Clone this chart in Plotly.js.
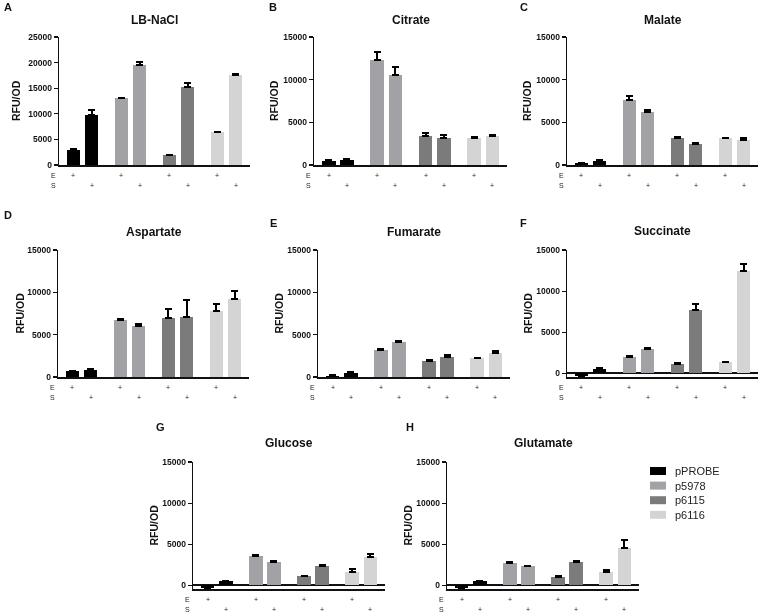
<!DOCTYPE html>
<html>
<head>
<meta charset="utf-8">
<script src="https://cdn.plot.ly/plotly-3.0.1.min.js"></script>
<style>
html,body{margin:0;padding:0;background:#fff;}
#chart{width:760px;height:614px;}
#chart .main-svg{will-change:transform;}
</style>
</head>
<body>
<div id="chart"></div>
<script>
// ---------- DATA ----------
const strains = ['pPROBE', 'p5978', 'p6115', 'p6116'];
const strainColors = ['#000000', '#a1a1a6', '#7b7b7b', '#d4d4d4'];
const panelTitles = ['LB-NaCl', 'Citrate', 'Malate', 'Aspartate', 'Fumarate', 'Succinate', 'Glucose', 'Glutamate'];
const panelLetters = ['A', 'B', 'C', 'D', 'E', 'F', 'G', 'H'];
const rowE = ['+', '', '+', '', '+', '', '+', ''];
const rowS = ['', '+', '', '+', '', '+', '', '+'];
const yTicks25 = [0, 5000, 10000, 15000, 20000, 25000];
const yTicks15 = [0, 5000, 10000, 15000];

// bar order per panel: pPROBE E, pPROBE S, p5978 E, p5978 S, p6115 E, p6115 S, p6116 E, p6116 S
const lbNaCl_mean    = [2900, 9700, 13000, 19600, 1900, 15200, 6400, 17500];
const lbNaCl_err     = [150, 1000, 150, 550, 120, 800, 120, 300];
const citrate_mean   = [430, 560, 12300, 10600, 3350, 3200, 3150, 3430];
const citrate_err    = [100, 120, 900, 850, 350, 280, 130, 90];
const malate_mean    = [220, 480, 7650, 6250, 3200, 2520, 3130, 2980];
const malate_err     = [60, 80, 450, 170, 120, 100, null, 200];
const aspartate_mean = [680, 820, 6750, 6080, 6950, 7080, 7850, 9230];
const aspartate_err  = [40, 120, 130, 130, 1050, 2050, 830, 950];
const fumarate_mean  = [150, 470, 3200, 4150, 1910, 2420, 2200, 2800];
const fumarate_err   = [40, 80, 110, 130, 60, 120, 90, 220];
const succinate_mean = [-330, 560, 2020, 2940, 1170, 7750, 1370, 12450];
const succinate_err  = [null, 90, 60, 80, 60, 680, 60, 880];
const glucose_mean   = [-330, 480, 3540, 2850, 1130, 2330, 1650, 3500];
const glucose_err    = [null, 90, 110, 90, 50, 90, 280, 360];
const glutamate_mean = [-330, 480, 2730, 2330, 1050, 2850, 1570, 4580];
const glutamate_err  = [null, 90, 120, null, 50, 130, 320, 890];

const panelMeans = [lbNaCl_mean, citrate_mean, malate_mean, aspartate_mean, fumarate_mean, succinate_mean, glucose_mean, glutamate_mean];
const panelErrs  = [lbNaCl_err, citrate_err, malate_err, aspartate_err, fumarate_err, succinate_err, glucose_err, glutamate_err];

// ---------- LAYOUT ----------
const W = 760, H = 614;
const FONT = 'Arial, "Liberation Sans", sans-serif';
// plot boxes in pixels: [left, right, top, bottom]
const boxes = [
  [59, 250, 37, 165], [314, 507, 37, 165], [567, 758, 37, 165],
  [58, 249, 250, 377], [318, 510, 250, 377], [567, 758, 250, 377],
  [193, 385, 462, 589], [447, 639, 462, 589]
];
const yRanges = [[0, 25000], [0, 15000], [0, 15000], [0, 15000], [0, 15000], [-450, 15000], [-450, 15000], [-450, 15000]];
const hasNeg = [false, false, false, false, false, true, true, true];
const titleY = [20, 20, 20, 232, 232, 231, 443, 443];
const letterPos = [[2, 7], [267, 7], [518, 7], [2, 215], [268, 223], [518, 223], [154, 427], [404, 427]];
const yTitleShift = [-43, -40, -40, -39, -40, -40, -40, -40];
const groupStep = 2.65;
const barPos = i => Math.floor(i / 2) * groupStep + (i % 2);

const px = x => x / W;
const py = y => 1 - y / H;

const traces = [];
const layout = {
  width: W, height: H,
  margin: {l: 0, r: 0, t: 0, b: 0},
  paper_bgcolor: '#ffffff', plot_bgcolor: '#ffffff',
  showlegend: false,
  bargap: 0,
  font: {family: FONT, color: '#111'},
  annotations: [],
  shapes: []
};

panelTitles.forEach((title, p) => {
  const k = p + 1;
  const xa = 'x' + (k === 1 ? '' : k);
  const ya = 'y' + (k === 1 ? '' : k);
  const b = boxes[p];
  strains.forEach((s, si) => {
    const idx = [2 * si, 2 * si + 1];
    traces.push({
      type: 'bar',
      name: s,
      x: idx.map(barPos),
      y: idx.map(i => panelMeans[p][i]),
      width: 0.75,
      xaxis: xa, yaxis: ya,
      marker: {color: strainColors[si], line: {width: 0}},
      error_y: {
        type: 'data', symmetric: false,
        array: idx.map(i => panelErrs[p][i]),
        arrayminus: [0, 0],
        color: '#000', thickness: 2, width: 3.5
      },
      hoverinfo: 'skip'
    });
  });
  layout['xaxis' + (k === 1 ? '' : k)] = {
    domain: [px(b[0]), px(b[1])],
    anchor: ya,
    range: [-0.8, 9.75],
    showline: true, linecolor: '#111', linewidth: 1.6,
    showgrid: false, zeroline: false, showticklabels: false, ticks: ''
  };
  layout['yaxis' + (k === 1 ? '' : k)] = {
    domain: [py(b[3]), py(b[2])],
    anchor: xa,
    range: yRanges[p],
    tickvals: p === 0 ? yTicks25 : yTicks15,
    ticktext: (p === 0 ? yTicks25 : yTicks15).map(String),
    ticks: 'outside', ticklen: 4, tickwidth: 1.2, tickcolor: '#111',
    tickfont: {family: FONT, size: 8.5, weight: 'bold', color: '#111'},
    showline: true, linecolor: '#111', linewidth: 1.4,
    showgrid: false,
    zeroline: hasNeg[p], zerolinecolor: '#111', zerolinewidth: 1.6
  };
  // panel title
  layout.annotations.push({
    text: title, xref: xa + ' domain', x: 0.5, yref: 'paper', y: py(titleY[p]),
    xanchor: 'center', yanchor: 'middle', showarrow: false,
    font: {family: FONT, size: 12, weight: 'bold', color: '#111'}
  });
  // panel letter
  layout.annotations.push({
    text: panelLetters[p], xref: 'paper', x: px(letterPos[p][0]), yref: 'paper', y: py(letterPos[p][1]),
    xanchor: 'left', yanchor: 'middle', showarrow: false,
    font: {family: FONT, size: 11, weight: 'bold', color: '#111'}
  });
  // y axis title
  layout.annotations.push({
    text: 'RFU/OD', xref: xa + ' domain', x: 0, xshift: yTitleShift[p], yref: ya + ' domain', y: 0.5,
    xanchor: 'center', yanchor: 'middle', textangle: -90, showarrow: false,
    font: {family: FONT, size: 10.5, weight: 'bold', color: '#111'}
  });
  // E / S row labels
  [['E', -10], ['S', -20]].forEach(([lab, sh]) => {
    layout.annotations.push({
      text: lab, xref: xa + ' domain', x: 0, xshift: -1, yref: ya + ' domain', y: 0, yshift: sh,
      xanchor: 'right', yanchor: 'middle', showarrow: false,
      font: {family: FONT, size: 7, color: '#222'}
    });
  });
  // + marks
  for (let i = 0; i < 8; i++) {
    [[rowE, -10], [rowS, -20]].forEach(([row, sh]) => {
      if (!row[i]) return;
      layout.annotations.push({
        text: row[i], xref: xa, x: barPos(i), yref: ya + ' domain', y: 0, yshift: sh,
        xanchor: 'center', yanchor: 'middle', showarrow: false,
        font: {family: FONT, size: 7, color: '#222'}
      });
    });
  }
});

// legend (drawn from strains / strainColors)
const legX = 650, legY0 = 471, legStep = 14.6;
strains.forEach((s, si) => {
  const yc = legY0 + si * legStep;
  layout.shapes.push({
    type: 'rect', xref: 'paper', yref: 'paper',
    x0: px(legX), x1: px(legX + 16), y0: py(yc + 4), y1: py(yc - 4),
    fillcolor: strainColors[si], line: {width: 0}
  });
  layout.annotations.push({
    text: s, xref: 'paper', x: px(legX + 23), yref: 'paper', y: py(yc),
    xanchor: 'left', yanchor: 'middle', showarrow: false,
    font: {family: FONT, size: 11, color: '#222'}
  });
});

Plotly.newPlot('chart', traces, layout, {staticPlot: true, displayModeBar: false});
</script>
</body>
</html>
